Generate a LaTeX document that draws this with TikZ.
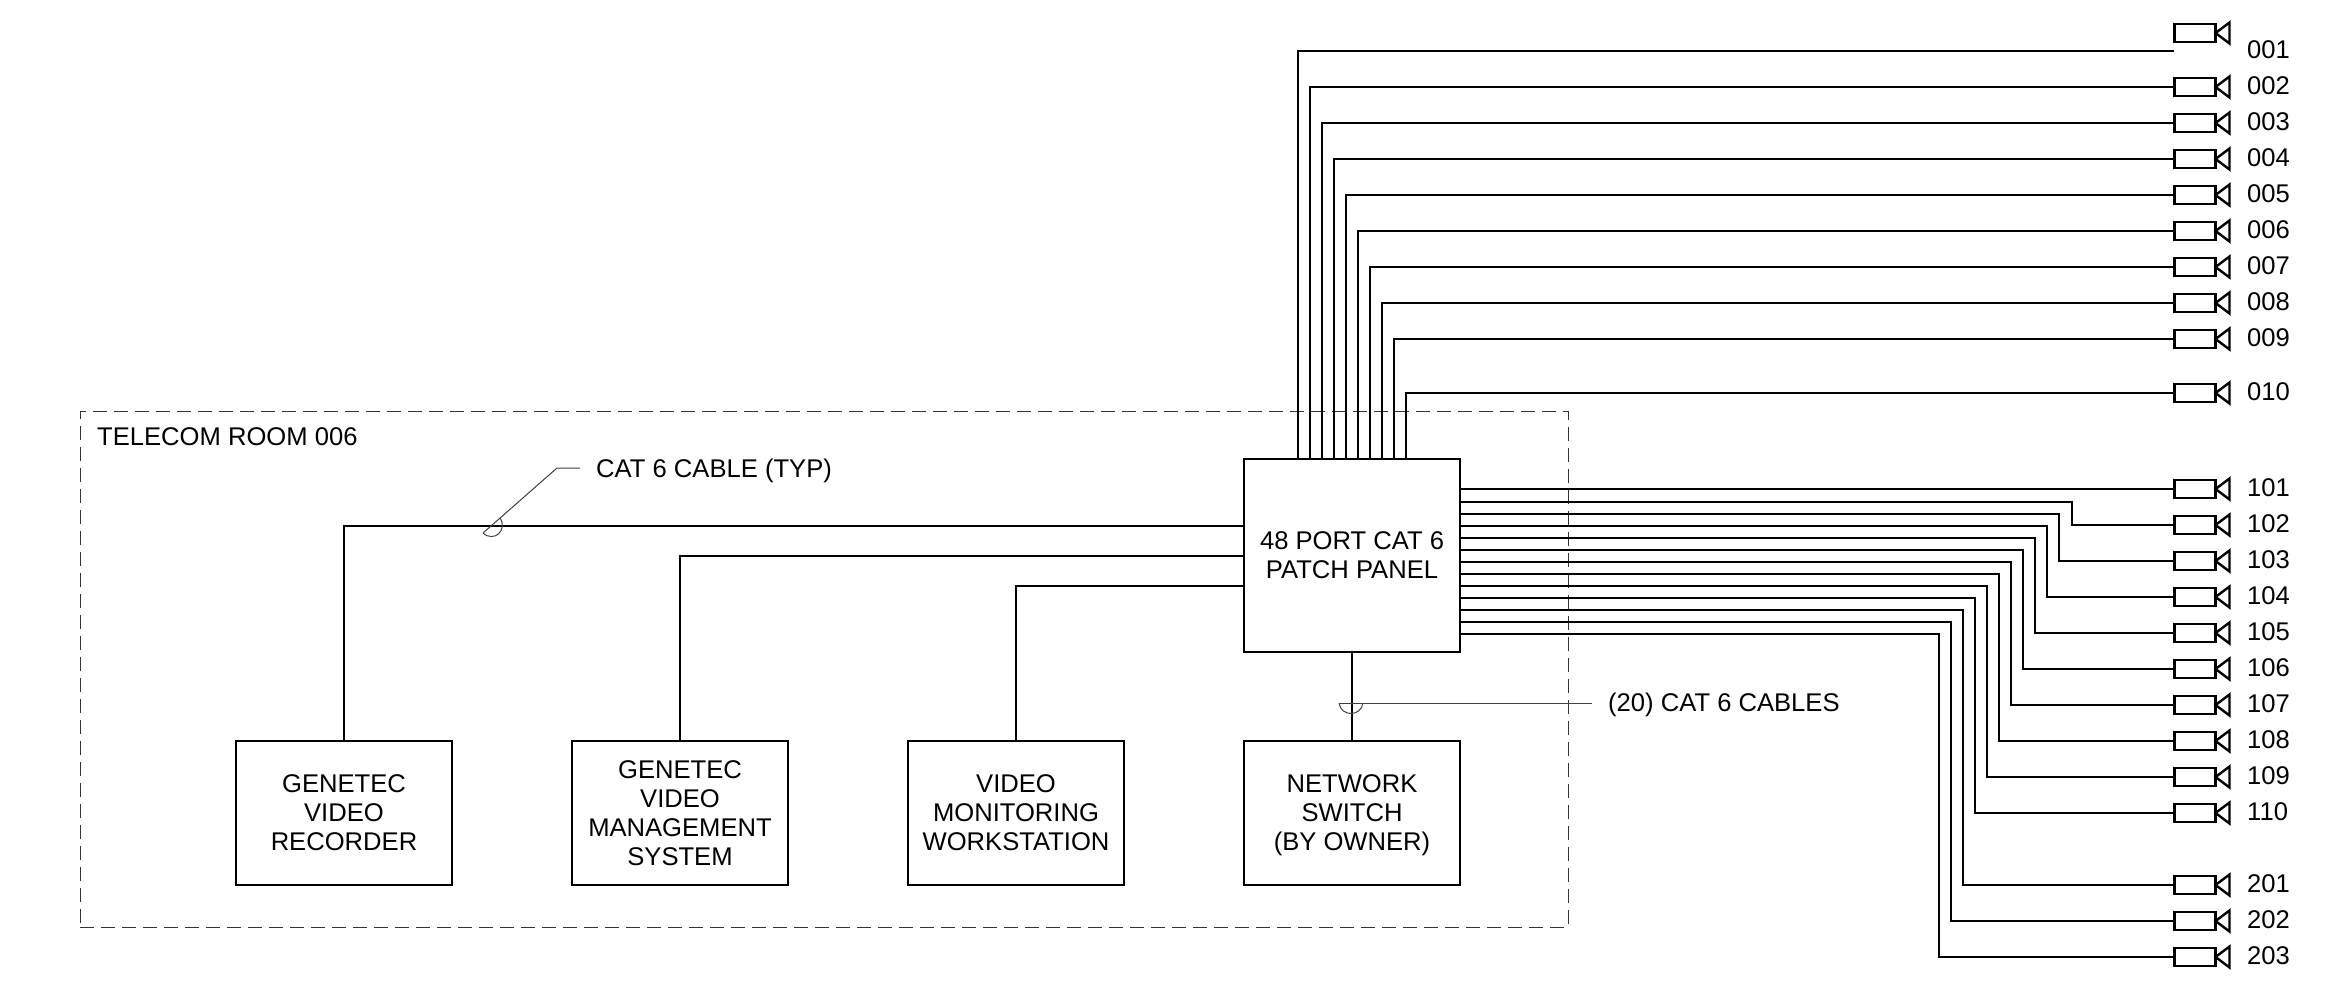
\documentclass[tikz,border=0pt]{standalone}
\usepackage{fontspec}
\setmainfont{Liberation Sans}
\tikzset{
  wire/.style={line width=2pt,black,line join=miter},
  boxnode/.style={draw=black,line width=2.4pt,minimum width=216pt,minimum height=144pt,inner sep=0pt,outer sep=0pt,align=center,font=\fontsize{25.6}{29}\selectfont},
  camnode/.style={draw=black,line width=2.4pt,minimum width=41pt,minimum height=18pt,inner sep=0pt,outer sep=0pt},
  camhead/.style={draw=black,line width=2.4pt,line join=miter},
  lbl/.style={anchor=west,inner sep=0pt,font=\fontsize{25.6}{29}\selectfont},
  leader/.style={draw=black!75,line width=1pt},
  room/.style={draw=black!80,line width=1pt,dash pattern=on 14pt off 7pt}
}
\begin{document}
\begin{tikzpicture}[x=1pt,y=-1pt]
\useasboundingbox (0,0) rectangle (2341,980);
\node[room,minimum width=1488pt,minimum height=516pt,inner sep=0pt,outer sep=0pt] (roombox) at (824,669) {};
\node[lbl] (roomlbl) at (97,437) {TELECOM ROOM 006};
\node[boxnode,minimum height=193pt] (panel) at (1352,555.5) {48 PORT CAT 6\\PATCH PANEL};
\node[boxnode] (rec) at (344,813) {GENETEC\\VIDEO\\RECORDER};
\node[boxnode] (vms) at (680,813) {GENETEC\\VIDEO\\MANAGEMENT\\SYSTEM};
\node[boxnode] (mon) at (1016,813) {VIDEO\\MONITORING\\WORKSTATION};
\node[boxnode] (sw) at (1352,813) {\rule{0pt}{22pt}NETWORK\\SWITCH\\(BY OWNER)};
\coordinate (p1) at (1244,526);
\coordinate (p2) at (1244,556);
\coordinate (p3) at (1244,586);
\draw[wire] (rec.north) |- (p1);
\draw[wire] (vms.north) |- (p2);
\draw[wire] (mon.north) |- (p3);
\draw[wire] (panel.south) -- (sw.north);
\foreach \n/\x/\y in {002/1310/87,003/1322/123,004/1334/159,005/1346/195,006/1358/231,007/1370/267,008/1382/303,009/1394/339,010/1406/393}{
  \node[camnode] (cam\n) at (2195,\y) {};
  \draw[camhead] (cam\n.east) -- ++(14,-10.5) -- ++(0,21) -- cycle;
  \node[lbl] (lab\n) at (2247,\y-1) {\n};
  \coordinate (t\n) at (\x,459);
  \draw[wire] (t\n) |- (cam\n.west);
}
\node[camnode] (cam001) at (2195,33) {};
\draw[camhead] (cam001.east) -- ++(14,-10.5) -- ++(0,21) -- cycle;
\node[lbl] (lab001) at (2247,49.5) {001};
\coordinate (t001) at (1298,459);
\coordinate (e001) at (2174,51);
\draw[wire] (t001) |- (e001);
\node[camnode] (cam101) at (2195,489) {};
\draw[camhead] (cam101.east) -- ++(14,-10.5) -- ++(0,21) -- cycle;
\node[lbl] (lab101) at (2247,488) {101};
\coordinate (r101) at (1460,489);
\draw[wire] (r101) -- (cam101.west);
\foreach \n/\r/\x/\y in {102/502/2072/525,103/514/2059/561,104/526/2047/597,105/538/2035/633,106/550/2023/669,107/562/2011/705,108/574/1999/741,109/586/1987/777,110/598/1975/813,201/610/1963/885,202/622/1951/921,203/634/1939/957}{
  \node[camnode] (cam\n) at (2195,\y) {};
  \draw[camhead] (cam\n.east) -- ++(14,-10.5) -- ++(0,21) -- cycle;
  \node[lbl] (lab\n) at (2247,\y-1) {\n};
  \coordinate (r\n) at (1460,\r);
  \coordinate (d\n) at (\x,\r);
  \draw[wire] (r\n) -- (d\n) |- (cam\n.west);
}
\node[lbl] (typ) at (596,471) {CAT 6 CABLE (TYP)};
\coordinate (typa) at (483,533);
\coordinate (typb) at (557,468);
\coordinate (typc) at (580,468);
\draw[leader] (typa) -- (typb) -- (typc);
\draw[leader] (500,518) .. controls (508,530) and (494,543) .. (typa);
\node[lbl] (twenty) at (1608,705) {(20) CAT 6 CABLES};
\coordinate (tw) at (1592,703);
\coordinate (twa) at (1339,703);
\draw[leader] (twa) -- (tw);
\draw[leader] (twa) .. controls (1341,717) and (1361,717) .. (1363,703);
\end{tikzpicture}
\end{document}
